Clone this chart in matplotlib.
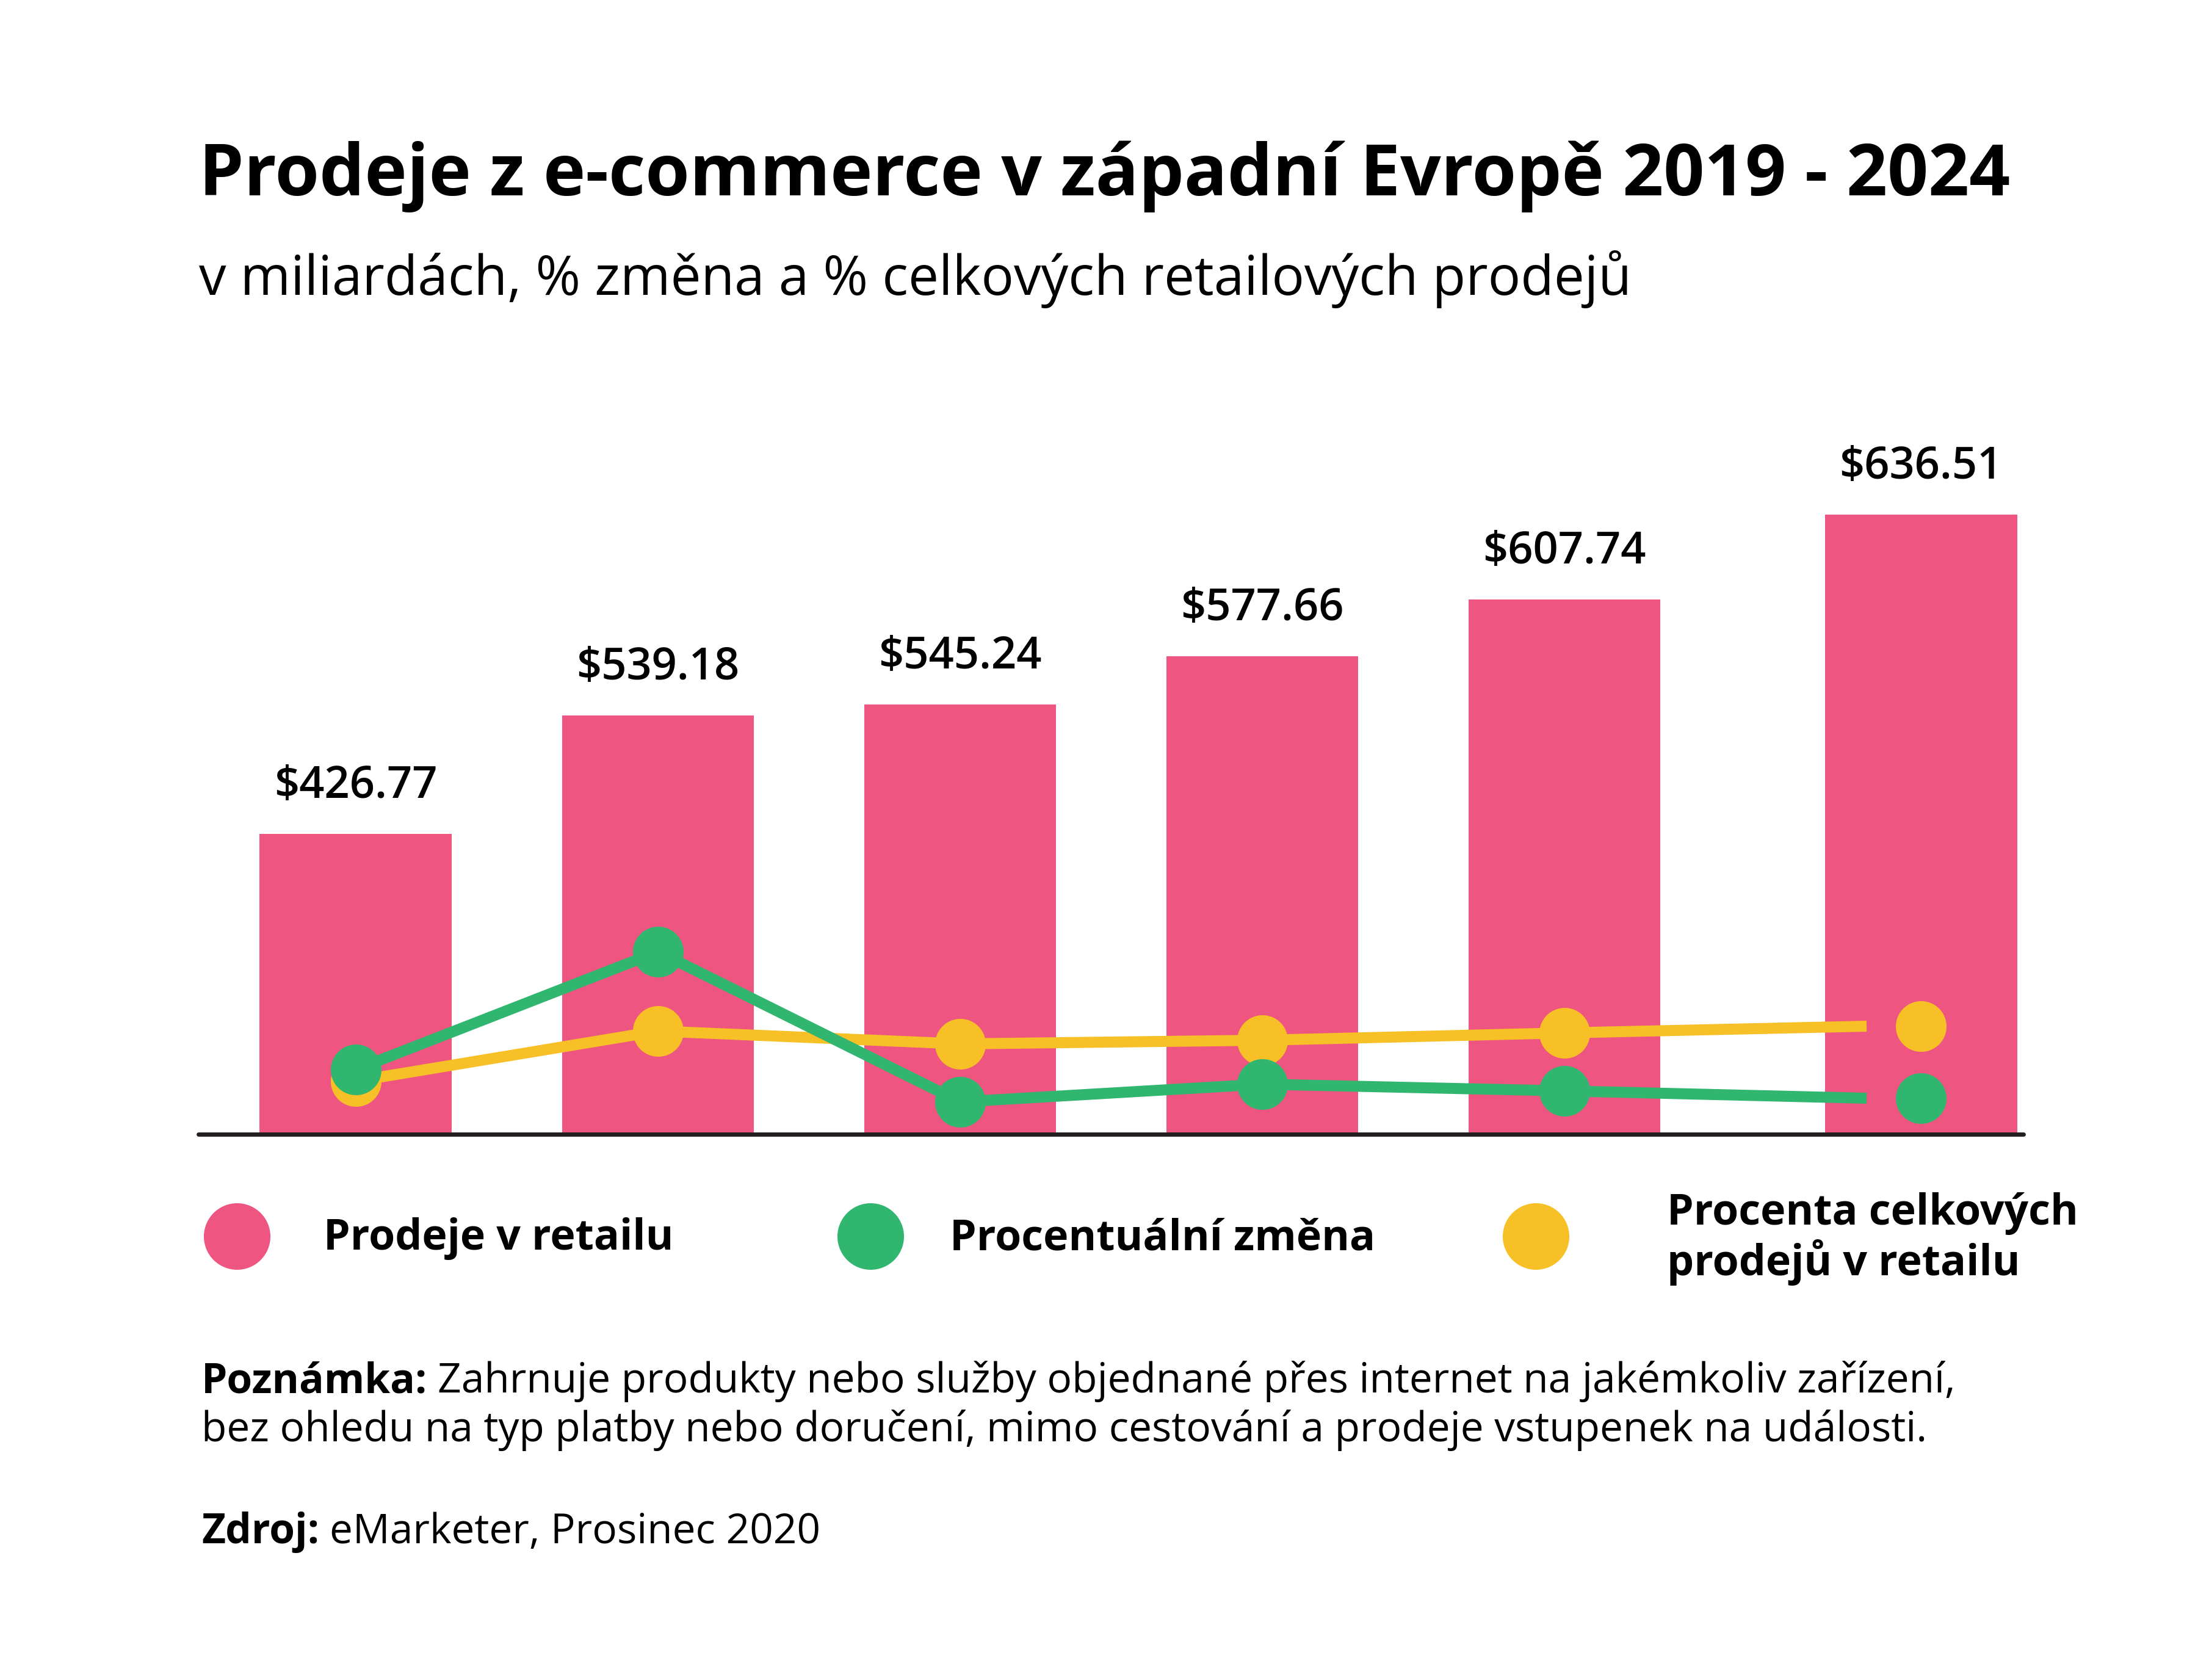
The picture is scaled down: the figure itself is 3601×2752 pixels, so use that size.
#!/usr/bin/env python3
"""E-commerce sales in Western Europe 2019-2024 -> out.png."""

import matplotlib
matplotlib.use("Agg")  # headless
import matplotlib.pyplot as plt

W, H = 3601, 2752          # output size in px (dpi 100)
FONT = ["Open Sans", "DejaVu Sans"]

PINK = "#EE5580"
GREEN = "#31B66F"
YELLOW = "#F6C026"
AXIS = "#231F20"

# data
years = [2019, 2020, 2021, 2022, 2023, 2024]
sales = [426.77, 539.18, 545.24, 577.66, 607.74, 636.51]      # bar labels, $bn
bar_height = [492, 686, 704, 783, 876, 1015]                   # drawn heights
bar_x = [0, 1, 2, 3, 4, 5.18]                                  # last bar sits a bit right
line_x = [0, 1, 2, 3, 4, 5]
pct_change = [106, 299, 53, 82, 71, 59]                        # drawn heights
pct_of_retail = [87, 169, 148, 154, 166, 177]                  # drawn heights

legend_labels = ["Prodeje v retailu", "Procentuální změna",
                 "Procenta celkových\nprodejů v retailu"]
legend_colors = [PINK, GREEN, YELLOW]

title = "Prodeje z e-commerce v západní Evropě 2019 - 2024"
subtitle = "v miliardách, % změna a % celkových retailových prodejů"
note_head = "Poznámka:"
note_lines = ["Zahrnuje produkty nebo služby objednané přes internet na jakémkoliv zařízení,",
              "bez ohledu na typ platby nebo doručení, mimo cestování a prodeje vstupenek na události."]
source_head = "Zdroj:"
source_text = "eMarketer, Prosinec 2020"


def fx(x):
    return x / W


def fy(y):
    return 1 - y / H


plt.rcParams["font.family"] = FONT
fig = plt.figure(figsize=(W / 100, H / 100), dpi=100)
fig.patch.set_facecolor("white")

# chart area: baseline at y=1858 px, x from 325 to 3315 px
base_y, top_y = 1858, 300
ax = fig.add_axes([fx(325), fy(base_y), fx(3315 - 325), (base_y - top_y) / H])
ax.set_xlim(-0.521, 5.519)
ax.set_ylim(0, base_y - top_y)

ax.bar(bar_x, bar_height, width=0.636, color=PINK, zorder=1)
for x, h, v in zip(bar_x, bar_height, sales):
    ax.annotate(f"${v:.2f}", (x, h), xytext=(0, 42.5), textcoords="offset points",
                ha="center", va="baseline", fontsize=52, fontweight="semibold",
                color="black")

ms = 59.8
ax.plot(line_x, pct_of_retail, color=YELLOW, lw=13, zorder=3, solid_capstyle="butt")
ax.plot(line_x, pct_change, color=GREEN, lw=13, zorder=4, solid_capstyle="butt")
ax.plot(bar_x, pct_of_retail, "o", color=YELLOW, ms=ms, mew=0, zorder=5)
ax.plot(bar_x, pct_change, "o", color=GREEN, ms=ms, mew=0, zorder=6)

for s in ["top", "left", "right"]:
    ax.spines[s].set_visible(False)
ax.spines["bottom"].set_linewidth(5)
ax.spines["bottom"].set_color(AXIS)
ax.spines["bottom"].set_capstyle("round")
ax.spines["bottom"].set_zorder(7)
ax.set_xticks([])
ax.set_yticks([])
ax.patch.set_alpha(0)

# titles
fig.text(fx(326), fy(320), title, fontsize=84.5, fontweight="bold", va="baseline")
fig.text(fx(326), fy(483), subtitle, fontsize=64.2, va="baseline")

# legend
dot_x = [388, 1426, 2516]
text_x = [530, 1556, 2731]
for cx, tx, lab, col in zip(dot_x, text_x, legend_labels, legend_colors):
    fig.lines.append(plt.Line2D([fx(cx)], [fy(2025)], marker="o", ms=78.5, mew=0,
                                color=col, transform=fig.transFigure))
    if "\n" in lab:
        for i, part in enumerate(lab.split("\n")):
            fig.text(fx(tx), fy(2006 + 83 * i), part, fontsize=50.2,
                     fontweight="bold", va="baseline")
    else:
        fig.text(fx(tx), fy(2047), lab, fontsize=50.2, fontweight="bold", va="baseline")

# note and source: bold head followed by regular text
renderer = fig.canvas.get_renderer()
NOTE_SIZE = 48.7


def head_and_text(x, y, head, text, size=NOTE_SIZE):
    t = fig.text(fx(x), fy(y), head, fontsize=size, fontweight="bold", va="baseline")
    w = t.get_window_extent(renderer).width
    fig.text(fx(x + w + size * 0.35), fy(y), text, fontsize=size, va="baseline")


head_and_text(330, 2281, note_head, note_lines[0])
fig.text(fx(330), fy(2361), note_lines[1], fontsize=NOTE_SIZE, va="baseline")
head_and_text(330, 2528, source_head, source_text)

fig.savefig("out.png", dpi=100, facecolor="white")
